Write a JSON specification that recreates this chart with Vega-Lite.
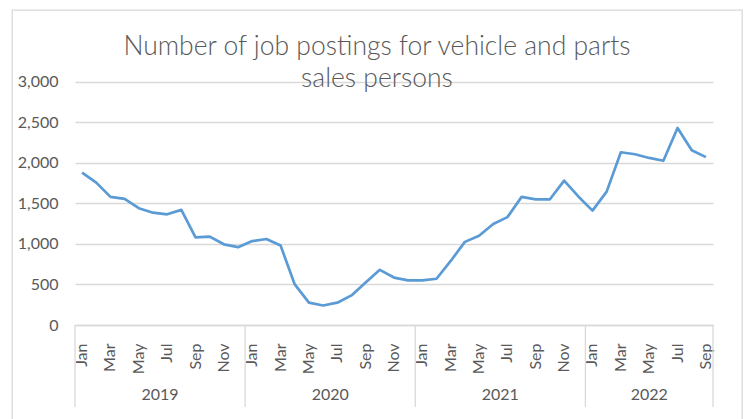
{
  "$schema": "https://vega.github.io/schema/vega-lite/v6.json",
  "width": 730,
  "height": 412,
  "autosize": {"type": "none"},
  "padding": {"left": 12, "top": 10, "right": 4, "bottom": 0},
  "title": {
    "text": ["Number of job postings for vehicle and parts", "sales persons"],
    "font": "Lato",
    "fontWeight": 300,
    "fontSize": 26.5,
    "color": "#595959",
    "anchor": "middle",
    "frame": "group",
    "offset": -103,
    "lineHeight": 32,
    "baseline": "alphabetic"
  },
  "data": {
    "values": [
      {"ym": "2019-01", "year": 2019, "month": 1, "v": 1880},
      {"ym": "2019-02", "year": 2019, "month": 2, "v": 1755},
      {"ym": "2019-03", "year": 2019, "month": 3, "v": 1580},
      {"ym": "2019-04", "year": 2019, "month": 4, "v": 1555},
      {"ym": "2019-05", "year": 2019, "month": 5, "v": 1440},
      {"ym": "2019-06", "year": 2019, "month": 6, "v": 1385},
      {"ym": "2019-07", "year": 2019, "month": 7, "v": 1365},
      {"ym": "2019-08", "year": 2019, "month": 8, "v": 1420},
      {"ym": "2019-09", "year": 2019, "month": 9, "v": 1080},
      {"ym": "2019-10", "year": 2019, "month": 10, "v": 1090},
      {"ym": "2019-11", "year": 2019, "month": 11, "v": 995},
      {"ym": "2019-12", "year": 2019, "month": 12, "v": 960},
      {"ym": "2020-01", "year": 2020, "month": 1, "v": 1035},
      {"ym": "2020-02", "year": 2020, "month": 2, "v": 1060},
      {"ym": "2020-03", "year": 2020, "month": 3, "v": 980},
      {"ym": "2020-04", "year": 2020, "month": 4, "v": 500},
      {"ym": "2020-05", "year": 2020, "month": 5, "v": 275},
      {"ym": "2020-06", "year": 2020, "month": 6, "v": 240},
      {"ym": "2020-07", "year": 2020, "month": 7, "v": 275},
      {"ym": "2020-08", "year": 2020, "month": 8, "v": 365},
      {"ym": "2020-09", "year": 2020, "month": 9, "v": 525},
      {"ym": "2020-10", "year": 2020, "month": 10, "v": 680},
      {"ym": "2020-11", "year": 2020, "month": 11, "v": 585},
      {"ym": "2020-12", "year": 2020, "month": 12, "v": 550},
      {"ym": "2021-01", "year": 2021, "month": 1, "v": 550},
      {"ym": "2021-02", "year": 2021, "month": 2, "v": 570},
      {"ym": "2021-03", "year": 2021, "month": 3, "v": 790},
      {"ym": "2021-04", "year": 2021, "month": 4, "v": 1025},
      {"ym": "2021-05", "year": 2021, "month": 5, "v": 1100},
      {"ym": "2021-06", "year": 2021, "month": 6, "v": 1245},
      {"ym": "2021-07", "year": 2021, "month": 7, "v": 1330},
      {"ym": "2021-08", "year": 2021, "month": 8, "v": 1580},
      {"ym": "2021-09", "year": 2021, "month": 9, "v": 1550},
      {"ym": "2021-10", "year": 2021, "month": 10, "v": 1550},
      {"ym": "2021-11", "year": 2021, "month": 11, "v": 1780},
      {"ym": "2021-12", "year": 2021, "month": 12, "v": 1585},
      {"ym": "2022-01", "year": 2022, "month": 1, "v": 1410},
      {"ym": "2022-02", "year": 2022, "month": 2, "v": 1645},
      {"ym": "2022-03", "year": 2022, "month": 3, "v": 2130},
      {"ym": "2022-04", "year": 2022, "month": 4, "v": 2105},
      {"ym": "2022-05", "year": 2022, "month": 5, "v": 2060},
      {"ym": "2022-06", "year": 2022, "month": 6, "v": 2025},
      {"ym": "2022-07", "year": 2022, "month": 7, "v": 2430},
      {"ym": "2022-08", "year": 2022, "month": 8, "v": 2155},
      {"ym": "2022-09", "year": 2022, "month": 9, "v": 2070}
    ]
  },
  "layer": [
    {
      "mark": {"type": "line", "color": "#5b9bd5", "strokeWidth": 2.7, "strokeJoin": "round", "clip": false},
      "encoding": {
        "x": {
          "field": "ym", "type": "ordinal", "bandPosition": 0.5,
          "scale": {"type": "band", "range": [63, 701], "paddingInner": 0, "paddingOuter": 0},
          "axis": {
            "title": null,
            "orient": "bottom",
            "offset": -97,
            "domain": true,
            "domainColor": "#d9d9d9",
            "domainWidth": 1.3,
            "ticks": false,
            "grid": false,
            "labelAngle": -90,
            "labelPadding": 18,
            "labelOverlap": false,
            "labelFont": "Lato",
            "labelFontSize": 16,
            "labelColor": "#595959",
            "labelExpr": "toNumber(substring(datum.value,5,7)) % 2 == 1 ? timeFormat(datetime(2000, toNumber(substring(datum.value,5,7)) - 1, 1), '%b') : ''"
          }
        },
        "y": {
          "field": "v", "type": "quantitative",
          "scale": {"domain": [0, 3000], "range": [315, 71.7], "nice": false, "zero": false},
          "axis": {
            "title": null,
            "orient": "left",
            "offset": -63,
            "values": [0, 500, 1000, 1500, 2000, 2500, 3000],
            "format": ",.0f",
            "domain": false,
            "ticks": false,
            "grid": true,
            "gridColor": "#d9d9d9",
            "gridWidth": 1.3,
            "labelPadding": 17,
            "labelFont": "Lato",
            "labelFontSize": 16,
            "labelColor": "#595959"
          }
        }
      }
    },
    {
      "transform": [{"filter": "datum.month == 1"}],
      "mark": {"type": "rule", "color": "#d9d9d9", "strokeWidth": 1.3},
      "encoding": {
        "x": {"field": "ym", "type": "ordinal", "bandPosition": 0},
        "y": {"datum": 0},
        "y2": {"datum": -1010}
      }
    },
    {
      "transform": [{"filter": "datum.ym == '2022-09'"}],
      "mark": {"type": "rule", "color": "#d9d9d9", "strokeWidth": 1.3},
      "encoding": {
        "x": {"field": "ym", "type": "ordinal", "bandPosition": 1},
        "y": {"datum": 0},
        "y2": {"datum": -1010}
      }
    },
    {
      "transform": [{"filter": "datum.month == 7 && datum.year < 2022"}],
      "mark": {"type": "text", "font": "Lato", "fontSize": 16, "color": "#595959", "baseline": "alphabetic", "align": "center"},
      "encoding": {
        "x": {"field": "ym", "type": "ordinal", "bandPosition": 0},
        "y": {"datum": -925},
        "text": {"field": "year", "type": "nominal"}
      }
    },
    {
      "transform": [{"filter": "datum.ym == '2022-05'"}],
      "mark": {"type": "text", "font": "Lato", "fontSize": 16, "color": "#595959", "baseline": "alphabetic", "align": "center"},
      "encoding": {
        "x": {"field": "ym", "type": "ordinal", "bandPosition": 0.5},
        "y": {"datum": -925},
        "text": {"field": "year", "type": "nominal"}
      }
    }
  ],
  "config": {
    "background": "white",
    "view": {"stroke": "#d9d9d9", "strokeWidth": 1.3}
  }
}
